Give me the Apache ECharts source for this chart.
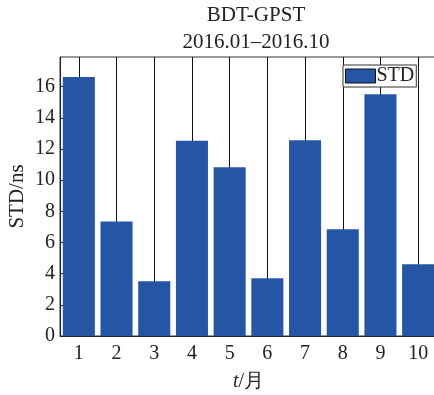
<!DOCTYPE html>
<html>
<head>
<meta charset="utf-8">
<script src="https://cdn.jsdelivr.net/npm/echarts@6/dist/echarts.min.js"></script>
<style>html,body{margin:0;padding:0;background:#fff}#c{width:434px;height:395px}</style>
</head>
<body>
<div id="c"></div>
<script>
var categories = ['1','2','3','4','5','6','7','8','9','10'];
var stdValues = [16.62, 7.34, 3.51, 12.52, 10.83, 3.70, 12.56, 6.85, 15.51, 4.60];
var titleLines = ['BDT-GPST', '2016.01\u20132016.10'];
var seriesName = 'STD';
var yMin = 0, yMax = 17.9, yStep = 2;

var serif = 'Liberation Serif';
var chart = echarts.init(document.getElementById('c'), null, {renderer: 'canvas'});
chart.setOption({
  animation: false,
  backgroundColor: '#fff',
  title: {
    text: titleLines.join('\n'),
    left: 251, top: -3, textAlign: 'center',
    textStyle: {fontFamily: serif, fontSize: 21, fontWeight: 'normal', color: '#222', lineHeight: 27}
  },
  legend: {
    data: [seriesName],
    left: 343, top: 65,
    itemWidth: 30, itemHeight: 14,
    padding: [1, 2, 1, 2],
    borderColor: '#333', borderWidth: 1, borderRadius: 0,
    backgroundColor: '#fff',
    icon: 'rect',
    itemStyle: {borderColor: '#111', borderWidth: 1},
    textStyle: {fontFamily: serif, fontSize: 20, color: '#222', lineHeight: 16, padding: [0,0,0,-4]}
  },
  grid: {left: 60, top: 57, width: 377, height: 279, outerBoundsMode: 'none', containLabel: false, show: true, borderColor: '#333', borderWidth: 1, backgroundColor: 'transparent'},
  xAxis: {
    type: 'category',
    data: categories,
    name: '{i|t}/月',
    nameLocation: 'middle',
    nameGap: 36,
    nameMoveOverlap: false,
    nameTextStyle: {fontFamily: serif, fontSize: 20, color: '#222', rich: {i: {fontFamily: serif, fontStyle: 'italic', fontSize: 20, color: '#222'}}},
    axisLine: {lineStyle: {color: '#222', width: 1}},
    axisTick: {show: true, inside: true, alignWithLabel: true, length: 3, lineStyle: {color: '#222'}},
    axisLabel: {fontFamily: serif, fontSize: 20, color: '#222', margin: 8},
    splitLine: {show: true, alignWithLabel: true, lineStyle: {color: '#111', width: 1}}
  },
  yAxis: {
    type: 'value',
    min: yMin, max: yMax, interval: yStep,
    name: 'STD/ns',
    nameLocation: 'middle',
    nameGap: 32,
    nameMoveOverlap: false,
    nameTextStyle: {fontFamily: serif, fontSize: 21, color: '#222'},
    axisLine: {show: true, lineStyle: {color: '#222', width: 1}},
    axisTick: {show: true, inside: true, length: 3, lineStyle: {color: '#222'}},
    axisLabel: {fontFamily: serif, fontSize: 20, color: '#222', margin: 5, showMaxLabel: false},
    splitLine: {show: false}
  },
  series: [{
    name: seriesName,
    type: 'bar',
    data: stdValues,
    barCategoryGap: '15%',
    itemStyle: {color: '#2456a5'}
  }]
});
</script>
</body>
</html>
